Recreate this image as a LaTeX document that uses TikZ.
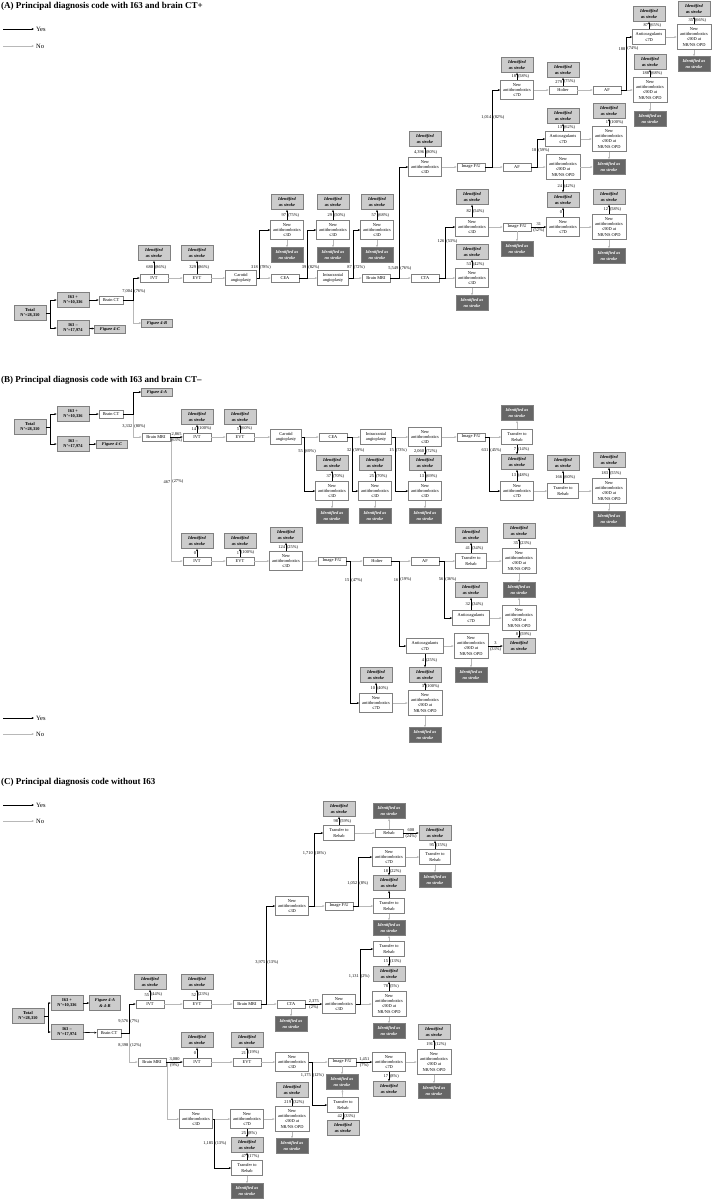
\documentclass[tikz,border=0pt]{standalone}
\usepackage{fontspec}
\setmainfont{Liberation Serif}
\usetikzlibrary{calc, arrows.meta, positioning}
\newcommand{\boxfont}{\fontsize{4.4}{5.1}\selectfont}

\begin{document}
\begin{tikzpicture}[
    x=1pt, y=-1pt,
    base/.style={rectangle, draw=gray, line width=0.6pt, align=center, inner sep=0.5pt, font=\boxfont},
    stepbox/.style={base, fill=white, minimum width=28pt, minimum height=8pt},
    twoline/.style={base, fill=white, minimum width=31pt, minimum height=15pt},
    drug/.style={base, fill=white, minimum width=33pt, minimum height=19pt},
    opd/.style={base, fill=white, minimum width=34pt, minimum height=25pt},
    idstroke/.style={base, fill=black!20, minimum width=32pt, minimum height=15pt, font=\boxfont\bfseries\itshape},
    idnone/.style={base, fill=black!60, text=white, minimum width=32pt, minimum height=15pt, font=\boxfont\bfseries\itshape},
    root/.style={base, fill=black!20, minimum width=32pt, minimum height=15pt, font=\boxfont\bfseries},
    fig/.style={base, fill=black!20, minimum width=31pt, minimum height=8pt, font=\boxfont\bfseries\itshape},
    paneltitle/.style={anchor=west, inner sep=0pt, font=\fontsize{9}{10}\selectfont\bfseries},
    legendtext/.style={anchor=west, inner sep=2pt, font=\fontsize{6.5}{7}\selectfont},
    lbl/.style={inner sep=0.7pt, font=\boxfont},
    yes/.style={draw=black, line width=0.6pt, -{Stealth[length=2.4pt, width=2pt]}},
    no/.style={draw=black!28, line width=0.6pt, -{Stealth[length=2.4pt, width=2pt]}}
]
\useasboundingbox (0,0) rectangle (712,1200);

% ---------------- (A) ----------------
\node (aTitle) [paneltitle] at (1,6) {(A) Principal diagnosis code with I63 and brain CT+};
\coordinate (aYesStart) at (3,29);
\node (aYes) [legendtext] at (34,29) {Yes};
\coordinate (aNoStart) at (3,46);
\node (aNo) [legendtext] at (34,46) {No};
\draw [yes] (aYesStart) -- (aYes);
\draw [no] (aNoStart) -- (aNo);

\node (aTotal) [root] at (30,313) {Total\\N'=28,310};
\node (aPos) [root] at (73,300) {I63 +\\N'=10,336};
\node (aNeg) [root] at (73,328) {I63 --\\N'=17,974};
\node (aCT) [stepbox, minimum width=24pt] at (111,300) {Brain CT};
\node (aFigC) [fig] at (110,329) {Figure 4-C};
\node (aFigB) [fig] at (157,323) {Figure 4-B};

\node (aIVT) [stepbox] at (154,278) {IVT};
\node (aIVTs) [idstroke] at (154,253) {Identified\\as stroke};
\node (aEVT) [stepbox] at (197,278) {EVT};
\node (aEVTs) [idstroke] at (197,253) {Identified\\as stroke};
\node (aCar) [twoline] at (241,278) {Carotid\\angioplasty};
\node (aCEA) [stepbox] at (285,278) {CEA};
\node (aInt) [twoline] at (333,278) {Intracranial\\angioplasty};
\node (aMRI) [stepbox] at (376,278) {Brain MRI};
\node (aCTA) [stepbox] at (425,278) {CTA};

\node (aCarD) [drug] at (287,230) {New\\antithrombotics\\≤3D};
\node (aCarDs) [idstroke] at (287,202) {Identified\\as stroke};
\node (aCarDn) [idnone] at (287,255) {Identified as\\no stroke};
\node (aCEAD) [drug] at (333,230) {New\\antithrombotics\\≤3D};
\node (aCEADs) [idstroke] at (333,202) {Identified\\as stroke};
\node (aCEADn) [idnone] at (333,255) {Identified as\\no stroke};
\node (aIntD) [drug] at (377,230) {New\\antithrombotics\\≤3D};
\node (aIntDs) [idstroke] at (377,202) {Identified\\as stroke};
\node (aIntDn) [idnone] at (377,255) {Identified as\\no stroke};

\node (aMD3) [drug] at (425,167) {New\\antithrombotics\\≤3D};
\node (aMD3s) [idstroke] at (425,139) {Identified\\as stroke};
\node (aMFU) [stepbox] at (471,167) {Image F/U};
\node (aMAF) [stepbox] at (517,167) {AF};
\node (aM7) [drug] at (517,90) {New\\antithrombotics\\≤7D};
\node (aM7s) [idstroke] at (517,65) {Identified\\as stroke};
\node (aHol) [stepbox] at (563,90) {Holter};
\node (aHols) [idstroke] at (563,70) {Identified\\as stroke};
\node (aAF) [stepbox] at (607,90) {AF};
\node (aAnt) [twoline, minimum width=33pt] at (649,37) {Anticoagulants\\≤7D};
\node (aAnts) [idstroke] at (649,14) {Identified\\as stroke};
\node (aOPD1) [opd] at (694,37) {New\\antithrombotics\\≤90D at\\NR/NS OPD};
\node (aOPD1s) [idstroke] at (694,9) {Identified\\as stroke};
\node (aOPD1n) [idnone] at (694,64) {Identified as\\no stroke};
\node (aOPD2) [opd] at (650,90) {New\\antithrombotics\\≤90D at\\NR/NS OPD};
\node (aOPD2s) [idstroke] at (650,62) {Identified\\as stroke};
\node (aOPD2n) [idnone] at (650,119) {Identified as\\no stroke};

\node (aAnt2) [twoline, minimum width=35pt] at (563,139) {Anticoagulants\\≤7D};
\node (aAnt2s) [idstroke] at (563,116) {Identified\\as stroke};
\node (aOPD3) [opd] at (609,139) {New\\antithrombotics\\≤90D at\\NR/NS OPD};
\node (aOPD3s) [idstroke] at (609,111) {Identified\\as stroke};
\node (aOPD3n) [idnone] at (609,167) {Identified as\\no stroke};
\node (aOPD4) [opd] at (563,167) {New\\antithrombotics\\≤90D at\\NR/NS OPD};
\node (aShared) [idstroke] at (563,200) {Identified\\as stroke};

\node (aCD3) [drug] at (472,227) {New\\antithrombotics\\≤3D};
\node (aCD3s) [idstroke] at (472,197) {Identified\\as stroke};
\node (aCD3b) [drug] at (472,278) {New\\antithrombotics\\≤3D};
\node (aCD3bs) [idstroke] at (472,252) {Identified\\as stroke};
\node (aCD3bn) [idnone] at (472,303) {Identified as\\no stroke};
\node (aCFU) [stepbox] at (517,227) {Image F/U};
\node (aCFUn) [idnone] at (517,249) {Identified as\\no stroke};
\node (aC7) [drug] at (563,227) {New\\antithrombotics\\≤7D};
\node (aOPD5) [opd] at (609,227) {New\\antithrombotics\\≤90D at\\NR/NS OPD};
\node (aOPD5s) [idstroke] at (609,197) {Identified\\as stroke};
\node (aOPD5n) [idnone] at (609,256) {Identified as\\no stroke};

% connections A
\draw [yes] (aTotal.east) -- ++(4,0) |- (aPos);
\draw [yes] (aTotal.east) -- ++(4,0) |- (aNeg);
\draw [yes] (aPos) -- (aCT);
\draw [yes] (aNeg) -- (aFigC);
\draw [no] (aCT.east) -- ++(10,0) |- (aFigB);
\draw [yes] (aCT.east) -- ++(10,0) |- (aIVT) node [lbl, pos=0.2, left] {7,004} node [lbl, pos=0.2, right] {(76\%)};

\draw [yes] (aIVT) -- (aIVTs) node [lbl, midway, left] {680} node [lbl, midway, right] {(86\%)};
\draw [no] (aIVT) -- (aEVT);
\draw [yes] (aEVT) -- (aEVTs) node [lbl, midway, left] {329} node [lbl, midway, right] {(86\%)};
\draw [no] (aEVT) -- (aCar);
\draw [no] (aCar) -- (aCEA);
\draw [yes] (aCar.east) -- ++(2,0) |- (aCarD) node [lbl, pos=0.11, left] {318} node [lbl, pos=0.11, right] {(78\%)};
\draw [yes] (aCarD) -- (aCarDs) node [lbl, midway, left] {97} node [lbl, midway, right] {(75\%)};
\draw [no] (aCarD) -- (aCarDn);
\draw [no] (aCEA) -- (aInt);
\draw [yes] (aCEA.east) -- ++(8,0) |- (aCEAD) node [lbl, pos=0.11, left] {39} node [lbl, pos=0.11, right] {(82\%)};
\draw [yes] (aCEAD) -- (aCEADs) node [lbl, midway, left] {29} node [lbl, midway, right] {(50\%)};
\draw [no] (aCEAD) -- (aCEADn);
\draw [no] (aInt) -- (aMRI);
\draw [yes] (aInt.east) -- ++(4,0) |- (aIntD) node [lbl, pos=0.11, left] {87} node [lbl, pos=0.11, right] {(72\%)};
\draw [yes] (aIntD) -- (aIntDs) node [lbl, midway, left] {57} node [lbl, midway, right] {(68\%)};
\draw [no] (aIntD) -- (aIntDn);

\draw [no] (aMRI) -- (aCTA);
\draw [yes] (aMRI.east) -- ++(9,0) |- (aMD3) node [lbl, pos=0.045, left] {5,549} node [lbl, pos=0.045, right] {(76\%)};
\draw [yes] (aMD3) -- (aMD3s) node [lbl, midway, left] {4,396} node [lbl, midway, right] {(80\%)};
\draw [no] (aMD3) -- (aMFU);
\draw [no] (aMFU) -- (aMAF);
\draw [yes] (aMFU.east) -- ++(7,0) |- (aM7) node [lbl, pos=0.32, left] {1,014} node [lbl, pos=0.32, right] {(82\%)};
\draw [yes] (aM7) -- (aM7s) node [lbl, midway, left] {18} node [lbl, midway, right] {(58\%)};
\draw [no] (aM7) -- (aHol);
\draw [yes] (aHol) -- (aHols) node [lbl, midway, left] {279} node [lbl, midway, right] {(75\%)};
\draw [no] (aHol) -- (aAF);
\draw [no] (aAF) -- (aOPD2);
\draw [yes] (aAF.east) -- ++(5,0) |- (aAnt) node [lbl, pos=0.39, left] {188} node [lbl, pos=0.39, right] {(74\%)};
\draw [yes] (aAnt) -- (aAnts) node [lbl, midway, left] {87} node [lbl, midway, right] {(65\%)};
\draw [no] (aAnt) -- (aOPD1);
\draw [yes] (aOPD1) -- (aOPD1s) node [lbl, midway, left] {35} node [lbl, midway, right] {(66\%)};
\draw [no] (aOPD1) -- (aOPD1n);
\draw [yes] (aOPD2) -- (aOPD2s) node [lbl, midway, left] {188} node [lbl, midway, right] {(68\%)};
\draw [no] (aOPD2) -- (aOPD2n);

\draw [no] (aMAF) -- (aOPD4);
\draw [yes] (aMAF.east) -- ++(6,0) |- (aAnt2) node [lbl, pos=0.3, left] {18} node [lbl, pos=0.3, right] {(59\%)};
\draw [yes] (aAnt2) -- (aAnt2s) node [lbl, midway, left] {13} node [lbl, midway, right] {(62\%)};
\draw [no] (aAnt2) -- (aOPD3);
\draw [yes] (aOPD3) -- (aOPD3s) node [lbl, midway, left] {1} node [lbl, midway, right] {(100\%)};
\draw [no] (aOPD3) -- (aOPD3n);
\draw [no] (aOPD4) -- (aOPD3n);
\draw [yes] (aOPD4) -- (aShared) node [lbl, midway, left] {24} node [lbl, midway, right] {(42\%)};

\draw [no] (aCTA) -- (aCD3b);
\draw [yes] (aCTA.east) -- ++(6,0) |- (aCD3) node [lbl, pos=0.36, left] {126} node [lbl, pos=0.36, right] {(53\%)};
\draw [yes] (aCD3) -- (aCD3s) node [lbl, midway, left] {82} node [lbl, midway, right] {(54\%)};
\draw [no] (aCD3) -- (aCFU);
\draw [no] (aCFU) -- (aCFUn);
\draw [yes] (aCFU) -- (aC7) node [lbl, midway, above] {31} node [lbl, midway, below] {(52\%)};
\draw [yes] (aC7) -- (aShared) node [lbl, midway, left] {0};
\draw [no] (aC7) -- (aOPD5);
\draw [yes] (aOPD5) -- (aOPD5s) node [lbl, midway, left] {12} node [lbl, midway, right] {(58\%)};
\draw [no] (aOPD5) -- (aOPD5n);
\draw [yes] (aCD3b) -- (aCD3bs) node [lbl, midway, left] {53} node [lbl, midway, right] {(42\%)};
\draw [no] (aCD3b) -- (aCD3bn);

% ---------------- (B) ----------------
\node (bTitle) [paneltitle] at (1,380) {(B) Principal diagnosis code with I63 and brain CT--};
\node (bTotal) [root] at (30,427) {Total\\N'=28,310};
\node (bPos) [root] at (73,414) {I63 +\\N'=10,336};
\node (bNeg) [root] at (73,444) {I63 --\\N'=17,974};
\node (bCT) [stepbox, minimum width=24pt] at (111,414) {Brain CT};
\node (bFigA) [fig] at (157,392) {Figure 4-A};
\node (bFigC) [fig] at (112,444) {Figure 4-C};
\node (bMRI) [stepbox] at (156,437) {Brain MRI};

\node (bIVT) [stepbox] at (197,437) {IVT};
\node (bIVTs) [idstroke] at (197,417) {Identified\\as stroke};
\node (bEVT) [stepbox] at (240,437) {EVT};
\node (bEVTs) [idstroke] at (240,417) {Identified\\as stroke};
\node (bCar) [twoline] at (286,437) {Carotid\\angioplasty};
\node (bCEA) [stepbox] at (333,437) {CEA};
\node (bInt) [twoline] at (376,437) {Intracranial\\angioplasty};
\node (bD3) [drug] at (425,437) {New\\antithrombotics\\≤3D};
\node (bFU) [stepbox] at (471,437) {Image F/U};
\node (bTR) [twoline] at (517,437) {Transfer to\\Rehab};
\node (bTRn) [idnone] at (517,413) {Identified as\\no stroke};

\node (bCarD) [drug] at (332,491) {New\\antithrombotics\\≤3D};
\node (bCarDs) [idstroke] at (332,463) {Identified\\as stroke};
\node (bCarDn) [idnone] at (332,516) {Identified as\\no stroke};
\node (bCEAD) [drug] at (375,491) {New\\antithrombotics\\≤3D};
\node (bCEADs) [idstroke] at (375,463) {Identified\\as stroke};
\node (bCEADn) [idnone] at (375,516) {Identified as\\no stroke};
\node (bIntD) [drug] at (425,491) {New\\antithrombotics\\≤3D};
\node (bShared1) [idstroke] at (425,463) {Identified\\as stroke};
\node (bIntDn) [idnone] at (425,516) {Identified as\\no stroke};
\node (bD7) [drug] at (517,491) {New\\antithrombotics\\≤7D};
\node (bShared2) [idstroke] at (517,462) {Identified\\as stroke};
\node (bTR2) [twoline] at (563,491) {Transfer to\\Rehab};
\node (bTR2s) [idstroke] at (563,463) {Identified\\as stroke};
\node (bOPD) [opd] at (609,491) {New\\antithrombotics\\≤90D at\\NR/NS OPD};
\node (bOPDs) [idstroke] at (609,460) {Identified\\as stroke};
\node (bOPDn) [idnone] at (609,519) {Identified as\\no stroke};

\node (bIVT2) [stepbox] at (197,561) {IVT};
\node (bIVT2s) [idstroke] at (197,541) {Identified\\as stroke};
\node (bEVT2) [stepbox] at (240,561) {EVT};
\node (bEVT2s) [idstroke] at (240,541) {Identified\\as stroke};
\node (bD3b) [drug] at (286,561) {New\\antithrombotics\\≤3D};
\node (bD3bs) [idstroke] at (286,535) {Identified\\as stroke};
\node (bFU2) [stepbox] at (332,561) {Image F/U};
\node (bHol) [stepbox] at (377,561) {Holter};
\node (bAF) [stepbox] at (425,561) {AF};
\node (bTR3) [twoline] at (471,561) {Transfer to\\Rehab};
\node (bTR3s) [idstroke] at (471,535) {Identified\\as stroke};
\node (bOPD2) [opd] at (519,561) {New\\antithrombotics\\≤90D at\\NR/NS OPD};
\node (bOPD2s) [idstroke] at (519,531) {Identified\\as stroke};
\node (bOPD2n) [idnone] at (519,590) {Identified as\\no stroke};
\node (bAnt) [twoline, minimum width=37pt] at (471,618) {Anticoagulants\\≤7D};
\node (bAnts) [idstroke] at (471,590) {Identified\\as stroke};
\node (bOPD3) [opd] at (519,618) {New\\antithrombotics\\≤90D at\\NR/NS OPD};
\node (bShared3) [idstroke] at (519,646) {Identified\\as stroke};
\node (bAnt2) [twoline, minimum width=37pt] at (425,646) {Anticoagulants\\≤7D};
\node (bOPD4) [opd] at (471,646) {New\\antithrombotics\\≤90D at\\NR/NS OPD};
\node (bOPD4n) [idnone] at (471,675) {Identified as\\no stroke};
\node (bShared4) [idstroke] at (425,675) {Identified\\as stroke};
\node (bD7b) [drug] at (376,703) {New\\antithrombotics\\≤7D};
\node (bD7bs) [idstroke] at (376,675) {Identified\\as stroke};
\node (bOPD5) [opd] at (425,703) {New\\antithrombotics\\≤90D at\\NR/NS OPD};
\node (bOPD5n) [idnone] at (425,735) {Identified as\\no stroke};

\coordinate (bYesStart) at (3,718);
\node (bYes) [legendtext] at (34,718) {Yes};
\coordinate (bNoStart) at (3,734);
\node (bNo) [legendtext] at (34,734) {No};
\draw [yes] (bYesStart) -- (bYes);
\draw [no] (bNoStart) -- (bNo);

% connections B
\draw [yes] (bTotal.east) -- ++(4,0) |- (bPos);
\draw [yes] (bTotal.east) -- ++(4,0) |- (bNeg);
\draw [yes] (bPos) -- (bCT);
\draw [yes] (bNeg) -- (bFigC);
\draw [no] (bCT.east) -- ++(10,0) |- (bMRI) node [lbl, pos=0.26, left] {3,332} node [lbl, pos=0.26, right] {(80\%)};
\draw [yes] (bCT.east) -- ++(10,0) |- (bFigA);
\draw [no] (bMRI.east) -- ++(1,0) |- (bIVT2) node [lbl, pos=0.18, left] {467} node [lbl, pos=0.18, right] {(27\%)};
\draw [yes] (bMRI) -- (bIVT) node [lbl, midway, above] {2,865} node [lbl, midway, below] {(63\%)};

\draw [yes] (bIVT) -- (bIVTs) node [lbl, midway, left] {14} node [lbl, midway, right] {(100\%)};
\draw [no] (bIVT) -- (bEVT);
\draw [yes] (bEVT) -- (bEVTs) node [lbl, midway, left] {5} node [lbl, midway, right] {(60\%)};
\draw [no] (bEVT) -- (bCar);
\draw [no] (bCar) -- (bCEA);
\draw [yes] (bCar.east) -- ++(2,0) |- (bCarD) node [lbl, pos=0.13, left] {55} node [lbl, pos=0.13, right] {(69\%)};
\draw [yes] (bCarD) -- (bCarDs) node [lbl, midway, left] {37} node [lbl, midway, right] {(70\%)};
\draw [no] (bCarD) -- (bCarDn);
\draw [no] (bCEA) -- (bInt);
\draw [yes] (bCEA.east) -- ++(5,0) |- (bCEAD) node [lbl, pos=0.12, left] {32} node [lbl, pos=0.12, right] {(59\%)};
\draw [yes] (bCEAD) -- (bCEADs) node [lbl, midway, left] {25} node [lbl, midway, right] {(70\%)};
\draw [no] (bCEAD) -- (bCEADn);
\draw [no] (bInt) -- (bD3);
\draw [yes] (bInt.east) -- ++(3,0) |- (bIntD) node [lbl, pos=0.12, left] {15} node [lbl, pos=0.12, right] {(73\%)};
\draw [yes] (bD3) -- (bShared1) node [lbl, midway, left] {2,060} node [lbl, midway, right] {(72\%)};
\draw [yes] (bIntD) -- (bShared1) node [lbl, midway, left] {13} node [lbl, midway, right] {(69\%)};
\draw [no] (bIntD) -- (bIntDn);
\draw [no] (bD3) -- (bFU);
\draw [no] (bFU) -- (bTR);
\draw [yes] (bFU.east) -- ++(4,0) |- (bD7) node [lbl, pos=0.12, left] {631} node [lbl, pos=0.12, right] {(45\%)};
\draw [no] (bTR) -- (bTRn);
\draw [yes] (bTR) -- (bShared2) node [lbl, midway, left] {7} node [lbl, midway, right] {(14\%)};
\draw [yes] (bD7) -- (bShared2) node [lbl, midway, left] {13} node [lbl, midway, right] {(48\%)};
\draw [no] (bD7) -- (bTR2);
\draw [yes] (bTR2) -- (bTR2s) node [lbl, midway, left] {166} node [lbl, midway, right] {(60\%)};
\draw [no] (bTR2) -- (bOPD);
\draw [yes] (bOPD) -- (bOPDs) node [lbl, midway, left] {183} node [lbl, midway, right] {(55\%)};
\draw [no] (bOPD) -- (bOPDn);

\draw [yes] (bIVT2) -- (bIVT2s) node [lbl, midway, left] {0};
\draw [no] (bIVT2) -- (bEVT2);
\draw [yes] (bEVT2) -- (bEVT2s) node [lbl, midway, left] {1} node [lbl, midway, right] {(100\%)};
\draw [no] (bEVT2) -- (bD3b);
\draw [yes] (bD3b) -- (bD3bs) node [lbl, midway, left] {124} node [lbl, midway, right] {(25\%)};
\draw [no] (bD3b) -- (bFU2);
\draw [no] (bFU2) -- (bHol);
\draw [yes] (bFU2.east) -- ++(4,0) |- (bD7b) node [lbl, pos=0.067, left] {15} node [lbl, pos=0.067, right] {(47\%)};
\draw [no] (bHol) -- (bAF);
\draw [yes] (bHol.east) -- ++(8,0) |- (bAnt2) node [lbl, pos=0.11, left] {16} node [lbl, pos=0.11, right] {(19\%)};
\draw [no] (bAF) -- (bTR3);
\draw [yes] (bAF.east) -- ++(5,0) |- (bAnt) node [lbl, pos=0.16, left] {56} node [lbl, pos=0.16, right] {(36\%)};
\draw [yes] (bTR3) -- (bTR3s) node [lbl, midway, left] {41} node [lbl, midway, right] {(34\%)};
\draw [no] (bTR3) -- (bOPD2);
\draw [yes] (bOPD2) -- (bOPD2s) node [lbl, midway, left] {35} node [lbl, midway, right] {(23\%)};
\draw [no] (bOPD2) -- (bOPD2n);
\draw [yes] (bAnt) -- (bAnts) node [lbl, midway, left] {32} node [lbl, midway, right] {(34\%)};
\draw [no] (bAnt) -- (bOPD3);
\draw [no] (bOPD3) -- (bOPD2n);
\draw [yes] (bOPD3) -- (bShared3) node [lbl, midway, left] {8} node [lbl, midway, right] {(59\%)};
\draw [no] (bAnt2) -- (bOPD4);
\draw [yes] (bAnt2) -- (bShared4) node [lbl, midway, left] {4} node [lbl, midway, right] {(25\%)};
\draw [yes] (bOPD4) -- (bShared3) node [lbl, midway, above] {3} node [lbl, midway, below] {(33\%)};
\draw [no] (bOPD4) -- (bOPD4n);
\draw [yes] (bD7b) -- (bD7bs) node [lbl, midway, left] {10} node [lbl, midway, right] {(40\%)};
\draw [no] (bD7b) -- (bOPD5);
\draw [yes] (bOPD5) -- (bShared4) node [lbl, midway, left] {3} node [lbl, midway, right] {(100\%)};
\draw [no] (bOPD5) -- (bOPD5n);

% ---------------- (C) ----------------
\node (cTitle) [paneltitle] at (1,782) {(C) Principal diagnosis code without I63};
\coordinate (cYesStart) at (3,805);
\node (cYes) [legendtext] at (34,805) {Yes};
\coordinate (cNoStart) at (3,821);
\node (cNo) [legendtext] at (34,821) {No};
\draw [yes] (cYesStart) -- (cYes);
\draw [no] (cNoStart) -- (cNo);

\node (cTotal) [root] at (28,1016) {Total\\N'=28,310};
\node (cPos) [root] at (67,1003) {I63 +\\N'=10,336};
\node (cNeg) [root] at (67,1032) {I63 --\\N'=17,974};
\node (cFig) [fig, minimum height=15pt] at (105,1003) {Figure 4-A\\\& 4-B};
\node (cCT) [stepbox, minimum width=24pt] at (109,1033) {Brain CT};

\node (cIVT) [stepbox] at (150,1004) {IVT};
\node (cIVTs) [idstroke] at (150,982) {Identified\\as stroke};
\node (cEVT) [stepbox] at (197,1004) {EVT};
\node (cEVTs) [idstroke] at (197,982) {Identified\\as stroke};
\node (cMRI) [stepbox] at (247,1004) {Brain MRI};
\node (cCTA) [stepbox] at (291,1004) {CTA};
\node (cCTAn) [idnone] at (291,1024) {Identified as\\no stroke};
\node (cD3) [drug] at (292,906) {New\\antithrombotics\\≤3D};
\node (cFU) [stepbox] at (339,906) {Image F/U};
\node (cTR) [twoline] at (339,833) {Transfer to\\Rehab};
\node (cTRs) [idstroke] at (339,809) {Identified\\as stroke};
\node (cReh) [stepbox] at (389,833) {Rehab};
\node (cRehn) [idnone] at (389,811) {Identified as\\no stroke};
\node (cSt1) [idstroke] at (435,833) {Identified\\as stroke};
\node (cD7) [drug] at (389,857) {New\\antithrombotics\\≤7D};
\node (cTR2) [twoline] at (435,857) {Transfer to\\Rehab};
\node (cTR2n) [idnone] at (435,880) {Identified as\\no stroke};
\node (cSt2) [idstroke] at (389,883) {Identified\\as stroke};
\node (cTR3) [twoline] at (389,906) {Transfer to\\Rehab};
\node (cTR3n) [idnone] at (389,928) {Identified as\\no stroke};
\node (cD3b) [drug] at (339,1004) {New\\antithrombotics\\≤3D};
\node (cTR4) [twoline] at (389,949) {Transfer to\\Rehab};
\node (cSt3) [idstroke] at (389,974) {Identified\\as stroke};
\node (cOPD) [opd] at (389,1004) {New\\antithrombotics\\≤90D at\\NR/NS OPD};
\node (cOPDn) [idnone] at (389,1031) {Identified as\\no stroke};

\node (cMRI2) [stepbox] at (152,1062) {Brain MRI};
\node (cIVT2) [stepbox] at (197,1062) {IVT};
\node (cIVT2s) [idstroke] at (197,1040) {Identified\\as stroke};
\node (cEVT2) [stepbox] at (247,1062) {EVT};
\node (cEVT2s) [idstroke] at (247,1040) {Identified\\as stroke};
\node (cD3c) [drug] at (292,1062) {New\\antithrombotics\\≤3D};
\node (cFU2) [stepbox] at (342,1062) {Image F/U};
\node (cFU2n) [idnone] at (342,1082) {Identified as\\no stroke};
\node (cD7c) [drug] at (389,1062) {New\\antithrombotics\\≤7D};
\node (cSt4) [idstroke] at (389,1089) {Identified\\as stroke};
\node (cOPD2) [opd] at (434,1062) {New\\antithrombotics\\≤90D at\\NR/NS OPD};
\node (cOPD2s) [idstroke] at (434,1032) {Identified\\as stroke};
\node (cOPD2n) [idnone] at (434,1091) {Identified as\\no stroke};
\node (cTR5) [twoline] at (343,1105) {Transfer to\\Rehab};
\node (cSt5) [idstroke] at (343,1128) {Identified\\as stroke};
\node (cD3d) [drug] at (196,1119) {New\\antithrombotics\\≤3D};
\node (cD7d) [drug] at (247,1119) {New\\antithrombotics\\≤7D};
\node (cSt6) [idstroke] at (247,1145) {Identified\\as stroke};
\node (cOPD3) [opd] at (292,1119) {New\\antithrombotics\\≤90D at\\NR/NS OPD};
\node (cOPD3s) [idstroke] at (292,1090) {Identified\\as stroke};
\node (cOPD3n) [idnone] at (292,1146) {Identified as\\no stroke};
\node (cTR6) [twoline] at (247,1168) {Transfer to\\Rehab};
\node (cTR6n) [idnone] at (247,1191) {Identified as\\no stroke};

% connections C
\draw [yes] (cTotal.east) -- ++(4,0) |- (cPos);
\draw [yes] (cTotal.east) -- ++(4,0) |- (cNeg);
\draw [yes] (cPos) -- (cFig);
\draw [yes] (cNeg) -- (cCT);
\draw [no] (cCT.east) -- ++(8,0) |- (cMRI2) node [lbl, pos=0.22, left] {8,398} node [lbl, pos=0.22, right] {(12\%)};
\draw [yes] (cCT.east) -- ++(8,0) |- (cIVT) node [lbl, pos=0.2, left] {9,576} node [lbl, pos=0.2, right] {(7\%)};

\draw [yes] (cIVT) -- (cIVTs) node [lbl, midway, left] {55} node [lbl, midway, right] {(44\%)};
\draw [no] (cIVT) -- (cEVT);
\draw [yes] (cEVT) -- (cEVTs) node [lbl, midway, left] {52} node [lbl, midway, right] {(23\%)};
\draw [no] (cEVT) -- (cMRI);
\draw [no] (cMRI) -- (cCTA);
\draw [yes] (cMRI.east) -- ++(5,0) |- (cD3) node [lbl, pos=0.21, left] {3,975} node [lbl, pos=0.21, right] {(13\%)};
\draw [no] (cCTA) -- (cCTAn);
\draw [yes] (cCTA) -- (cD3b) node [lbl, midway, above] {2,375} node [lbl, midway, below] {(2\%)};
\draw [no] (cD3) -- (cFU);
\draw [yes] (cD3.east) -- ++(5,0) |- (cTR) node [lbl, pos=0.36, left] {1,710} node [lbl, pos=0.36, right] {(18\%)};
\draw [yes] (cTR) -- (cTRs) node [lbl, midway, left] {98} node [lbl, midway, right] {(59\%)};
\draw [no] (cTR) -- (cReh);
\draw [no] (cReh) -- (cRehn);
\draw [yes] (cReh) -- (cSt1) node [lbl, midway, above] {608} node [lbl, midway, below] {(24\%)};
\draw [no] (cFU) -- (cTR3);
\draw [yes] (cFU.east) -- ++(5,0) |- (cD7) node [lbl, pos=0.23, left] {1,052} node [lbl, pos=0.23, right] {(8\%)};
\draw [no] (cD7) -- (cTR2);
\draw [yes] (cTR2) -- (cSt1) node [lbl, midway, left] {95} node [lbl, midway, right] {(15\%)};
\draw [no] (cTR2) -- (cTR2n);
\draw [yes] (cD7) -- (cSt2) node [lbl, midway, left] {18} node [lbl, midway, right] {(22\%)};
\draw [yes] (cTR3) -- (cSt2);
\draw [no] (cTR3) -- (cTR3n);
\draw [no] (cD3b) -- (cOPD);
\draw [yes] (cD3b.east) -- ++(4,0) |- (cTR4) node [lbl, pos=0.25, left] {1,131} node [lbl, pos=0.25, right] {(2\%)};
\draw [no] (cTR4) -- (cTR3n);
\draw [yes] (cTR4) -- (cSt3) node [lbl, midway, left] {15} node [lbl, midway, right] {(13\%)};
\draw [yes] (cOPD) -- (cSt3) node [lbl, midway, left] {78} node [lbl, midway, right] {(5\%)};
\draw [no] (cOPD) -- (cOPDn);

\draw [no] (cMRI2.east) -- ++(1,0) |- (cD3d);
\draw [yes] (cMRI2) -- (cIVT2) node [lbl, midway, above] {3,080} node [lbl, midway, below] {(9\%)};
\draw [yes] (cIVT2) -- (cIVT2s) node [lbl, midway, left] {0};
\draw [no] (cIVT2) -- (cEVT2);
\draw [yes] (cEVT2) -- (cEVT2s) node [lbl, midway, left] {21} node [lbl, midway, right] {(19\%)};
\draw [no] (cEVT2) -- (cD3c);
\draw [no] (cD3c) -- (cFU2);
\draw [yes] (cD3c.east) -- ++(3,0) |- (cTR5) node [lbl, pos=0.16, left] {1,175} node [lbl, pos=0.16, right] {(12\%)};
\draw [no] (cFU2) -- (cFU2n);
\draw [yes] (cFU2) -- (cD7c) node [lbl, midway, above] {1,451} node [lbl, midway, below] {(7\%)};
\draw [yes] (cD7c) -- (cSt4) node [lbl, midway, left] {17} node [lbl, midway, right] {(8\%)};
\draw [no] (cD7c) -- (cOPD2);
\draw [yes] (cOPD2) -- (cOPD2s) node [lbl, midway, left] {191} node [lbl, midway, right] {(12\%)};
\draw [no] (cOPD2) -- (cOPD2n);
\draw [no] (cTR5) -- (cFU2n);
\draw [yes] (cTR5) -- (cSt5) node [lbl, midway, left] {42} node [lbl, midway, right] {(33\%)};
\draw [no] (cD3d) -- (cD7d);
\draw [yes] (cD3d.east) -- ++(1.5,0) |- (cTR6) node [lbl, pos=0.25, left] {1,185} node [lbl, pos=0.25, right] {(13\%)};
\draw [yes] (cD7d) -- (cSt6) node [lbl, midway, left] {25} node [lbl, midway, right] {(8\%)};
\draw [no] (cD7d) -- (cOPD3);
\draw [yes] (cOPD3) -- (cOPD3s) node [lbl, midway, left] {219} node [lbl, midway, right] {(32\%)};
\draw [no] (cOPD3) -- (cOPD3n);
\draw [yes] (cTR6) -- (cSt6) node [lbl, midway, left] {47} node [lbl, midway, right] {(17\%)};
\draw [no] (cTR6) -- (cTR6n);

\end{tikzpicture}
\end{document}
